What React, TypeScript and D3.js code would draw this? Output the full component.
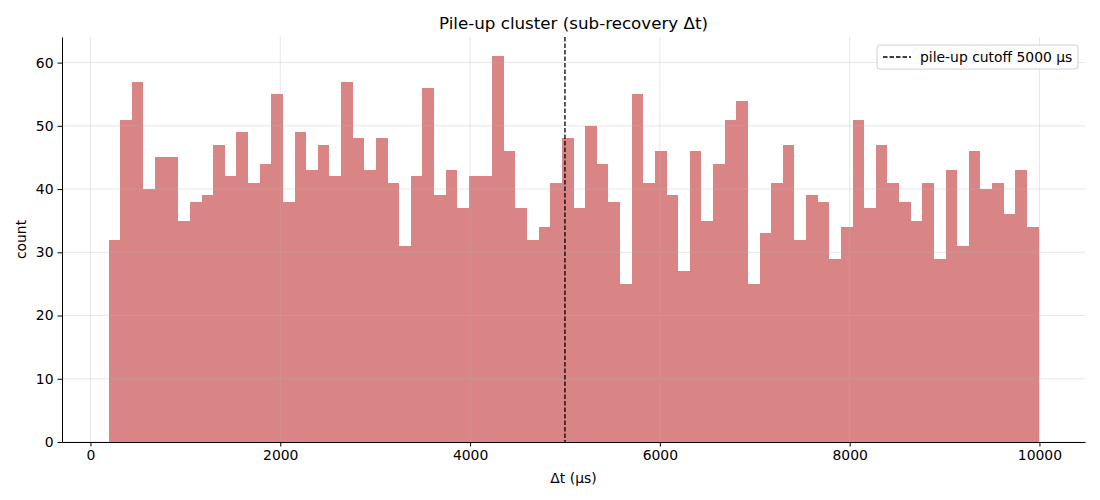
import React, { useRef, useEffect } from 'react';
import * as d3 from 'd3';

// Histogram: 80 equal bins between the min and max Δt
const binStart = 190;
const binEnd = 9990;
const binCounts = [
  32, 51, 57, 40, 45, 45, 35, 38, 39, 47,
  42, 49, 41, 44, 55, 38, 49, 43, 47, 42,
  57, 48, 43, 48, 41, 31, 42, 56, 39, 43,
  37, 42, 42, 61, 46, 37, 32, 34, 41, 48,
  37, 50, 44, 38, 25, 55, 41, 46, 39, 27,
  46, 35, 44, 51, 54, 25, 33, 41, 47, 32,
  39, 38, 29, 34, 51, 37, 47, 41, 38, 35,
  41, 29, 43, 31, 46, 40, 41, 36, 43, 34,
];
const cutoff = 5000;
const xTicks = [0, 2000, 4000, 6000, 8000, 10000];
const yTicks = [0, 10, 20, 30, 40, 50, 60];

const WIDTH = 1100;
const HEIGHT = 500;
const FONT = '"DejaVu Sans", sans-serif';

export default function App() {
  const svgRef = useRef<SVGSVGElement>(null);

  useEffect(() => {
    if (!svgRef.current) return;
    const svg = d3.select(svgRef.current);
    svg.selectAll('*').remove();

    const margin = { top: 37, right: 15, bottom: 58, left: 62 };
    const innerWidth = WIDTH - margin.left - margin.right;
    const innerHeight = HEIGHT - margin.top - margin.bottom;

    const binWidth = (binEnd - binStart) / binCounts.length;
    const bins = binCounts.map((c, i) => ({
      x0: binStart + i * binWidth,
      x1: binStart + (i + 1) * binWidth,
      count: c,
    }));

    // matplotlib style 5% padding on x
    const pad = (binEnd - binStart) * 0.05;
    const x = d3.scaleLinear()
      .domain([binStart - pad, binEnd + pad])
      .range([0, innerWidth]);
    const y = d3.scaleLinear()
      .domain([0, (d3.max(binCounts) || 0) * 1.05])
      .range([innerHeight, 0]);

    const g = svg.append('g')
      .attr('transform', `translate(${margin.left},${margin.top})`);

    // Bars
    g.selectAll('.bar')
      .data(bins)
      .enter().append('rect')
      .attr('class', 'bar')
      .attr('x', d => x(d.x0))
      .attr('width', d => x(d.x1) - x(d.x0))
      .attr('y', d => y(d.count))
      .attr('height', d => innerHeight - y(d.count))
      .attr('fill', '#d98586')
      .attr('shape-rendering', 'crispEdges');

    // Grid (drawn over the bars, like matplotlib)
    g.append('g')
      .selectAll('line')
      .data(xTicks)
      .enter().append('line')
      .attr('x1', d => x(d)).attr('x2', d => x(d))
      .attr('y1', 0).attr('y2', innerHeight)
      .attr('stroke', '#b0b0b0').attr('stroke-opacity', 0.35).attr('stroke-width', 0.9);
    g.append('g')
      .selectAll('line')
      .data(yTicks)
      .enter().append('line')
      .attr('x1', 0).attr('x2', innerWidth)
      .attr('y1', d => y(d)).attr('y2', d => y(d))
      .attr('stroke', '#b0b0b0').attr('stroke-opacity', 0.35).attr('stroke-width', 0.9);

    // Cutoff line
    g.append('line')
      .attr('x1', x(cutoff)).attr('x2', x(cutoff))
      .attr('y1', 0).attr('y2', innerHeight)
      .attr('stroke', '#000')
      .attr('stroke-width', 1.3)
      .attr('stroke-dasharray', '4.5,2');

    // Axes
    const xAxis = g.append('g')
      .attr('transform', `translate(0,${innerHeight})`)
      .call(d3.axisBottom(x).tickValues(xTicks).tickFormat(d3.format('d')).tickSize(4.5).tickPadding(4).tickSizeOuter(0));
    const yAxis = g.append('g')
      .call(d3.axisLeft(y).tickValues(yTicks).tickFormat(d3.format('d')).tickSize(4.5).tickPadding(4).tickSizeOuter(0));
    [xAxis, yAxis].forEach(ax => {
      ax.selectAll('path').attr('stroke', '#000').attr('stroke-width', 1);
      ax.selectAll('line').attr('stroke', '#000').attr('stroke-width', 1);
      ax.selectAll('text')
        .style('font-family', FONT)
        .style('font-size', '13.9px')
        .attr('fill', '#000');
    });

    // Labels
    svg.append('text')
      .attr('x', margin.left + innerWidth / 2)
      .attr('y', 28.5)
      .attr('text-anchor', 'middle')
      .style('font-family', FONT)
      .style('font-size', '16.7px')
      .text('Pile-up cluster (sub-recovery Δt)');
    svg.append('text')
      .attr('x', margin.left + innerWidth / 2)
      .attr('y', 483)
      .attr('text-anchor', 'middle')
      .style('font-family', FONT)
      .style('font-size', '13.9px')
      .text('Δt (µs)');
    svg.append('text')
      .attr('transform', `translate(26,${margin.top + innerHeight / 2}) rotate(-90)`)
      .attr('text-anchor', 'middle')
      .style('font-family', FONT)
      .style('font-size', '13.9px')
      .text('count');

    // Legend
    const lg = svg.append('g').attr('transform', 'translate(877,45)');
    lg.append('rect')
      .attr('width', 201).attr('height', 24).attr('rx', 3)
      .attr('fill', '#fff').attr('fill-opacity', 0.8)
      .attr('stroke', '#d0d0d0').attr('stroke-width', 1);
    lg.append('line')
      .attr('x1', 6).attr('x2', 34).attr('y1', 12).attr('y2', 12)
      .attr('stroke', '#000').attr('stroke-width', 1.3).attr('stroke-dasharray', '4.5,2');
    lg.append('text')
      .attr('x', 43).attr('y', 16.8)
      .style('font-family', FONT)
      .style('font-size', '13.9px')
      .text(`pile-up cutoff ${cutoff} µs`);
  }, []);

  return (
    <div style={{ position: 'absolute', left: 0, top: 0, background: '#fff' }}>
      <svg ref={svgRef} width={WIDTH} height={HEIGHT} style={{ display: 'block' }} />
    </div>
  );
}
